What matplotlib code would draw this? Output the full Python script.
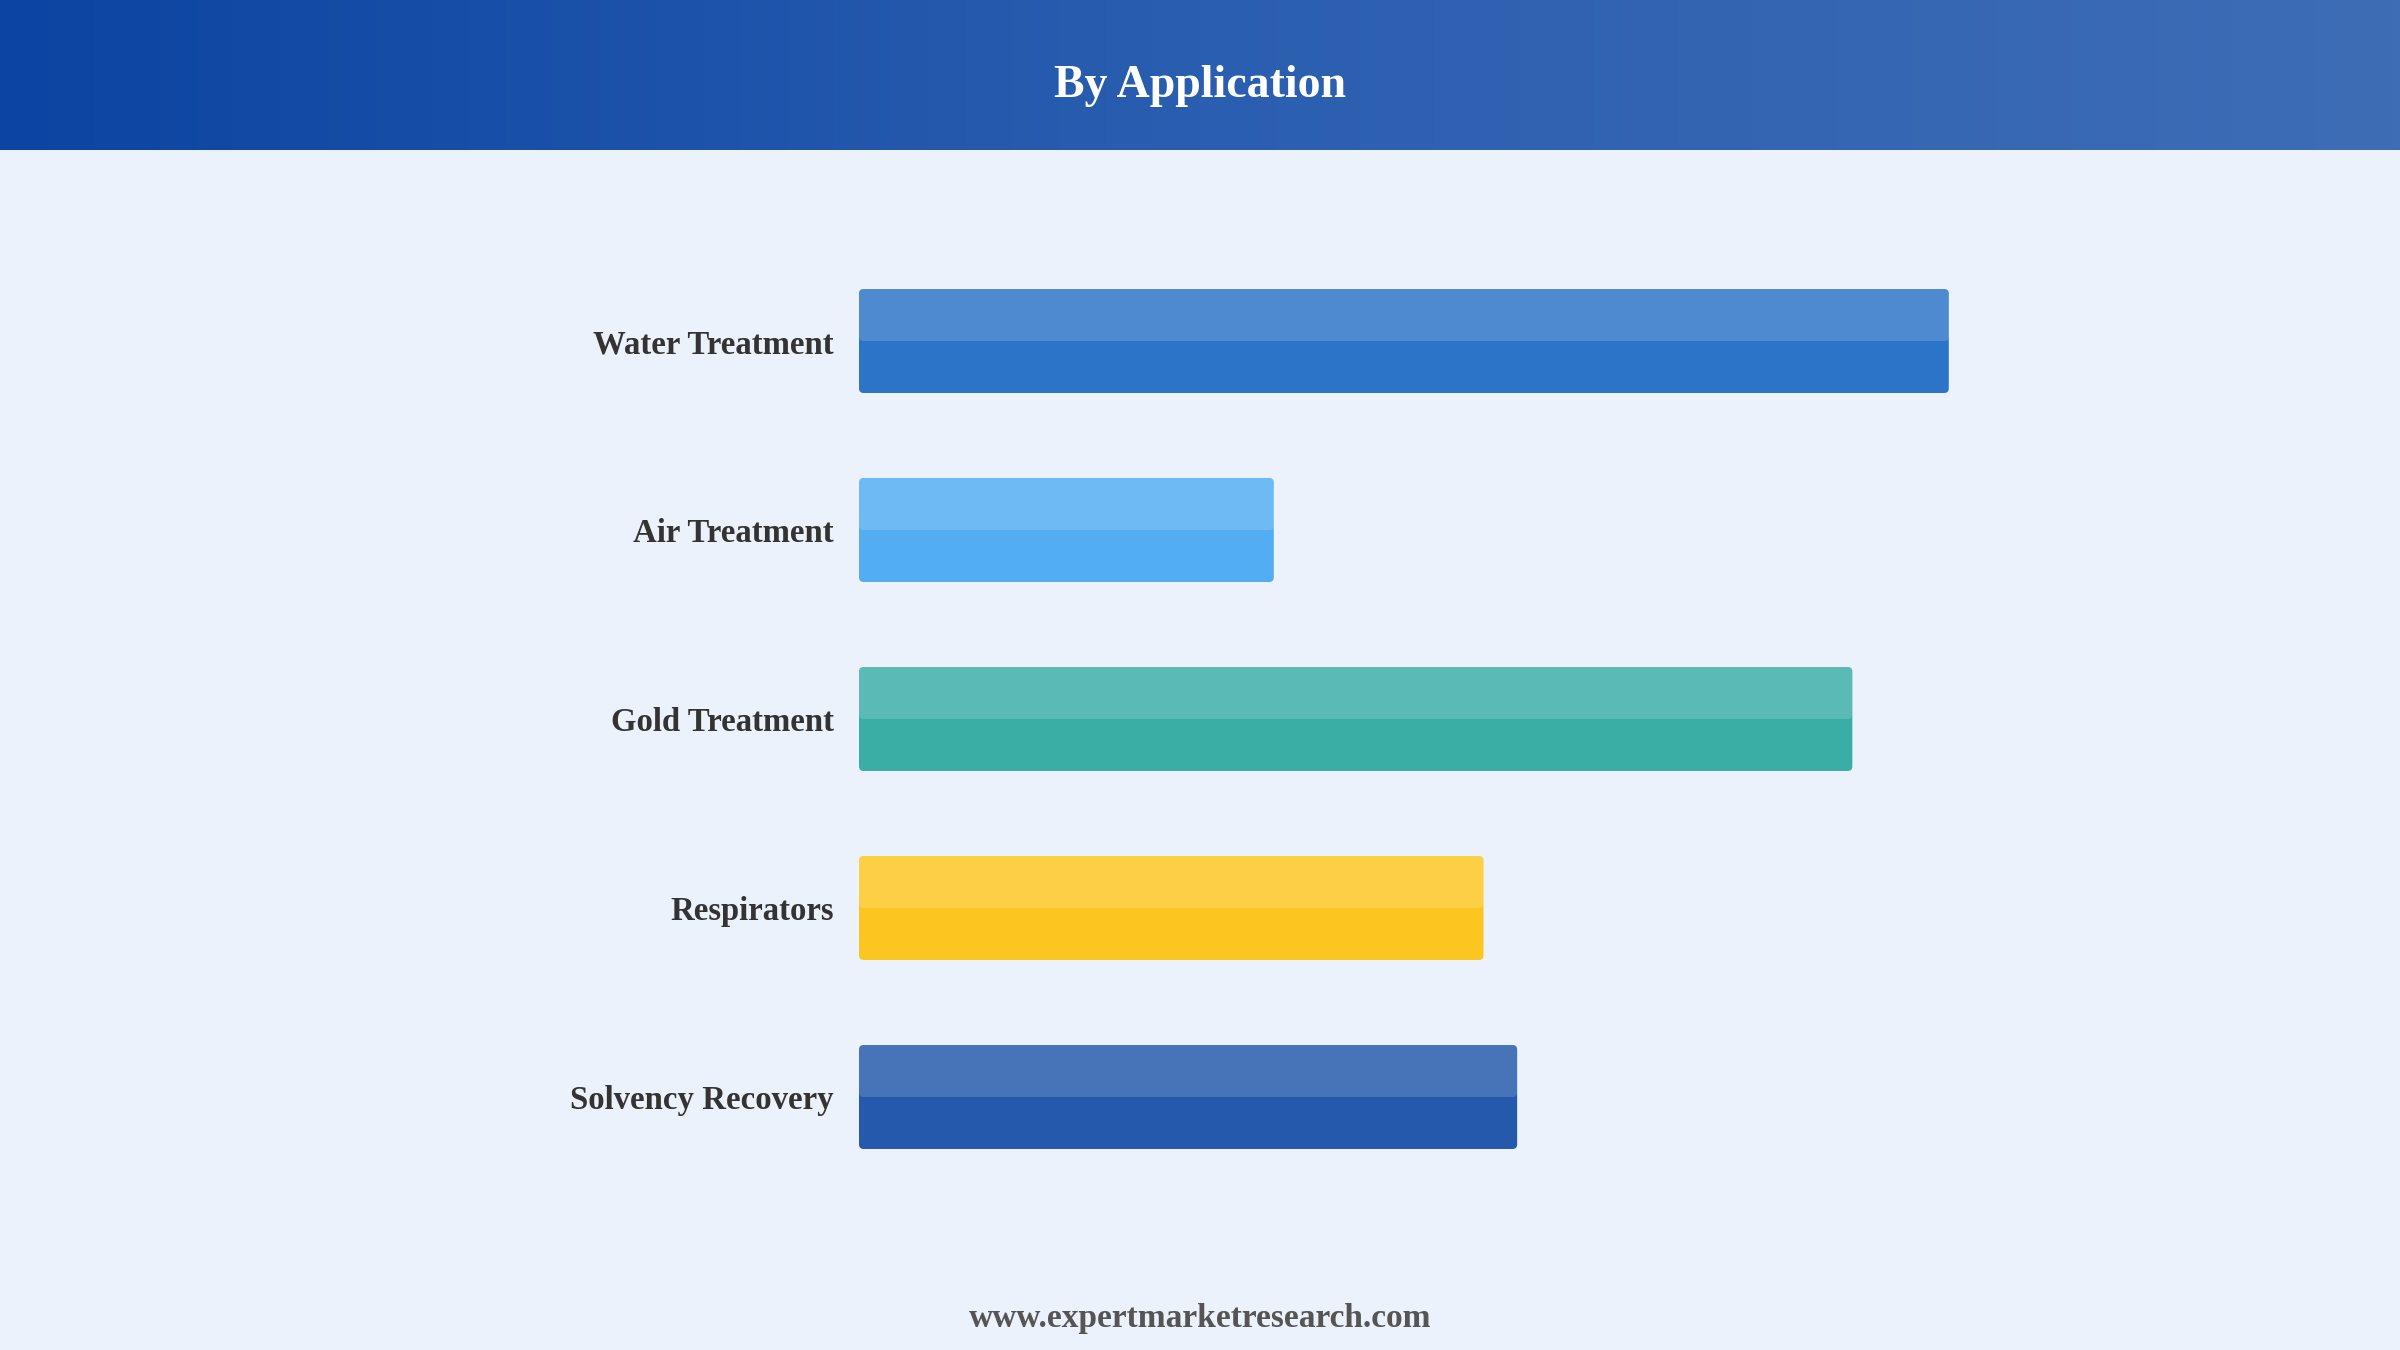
import numpy as np
import matplotlib
matplotlib.use("Agg")
import matplotlib.pyplot as plt
from matplotlib.patches import FancyBboxPatch
from matplotlib.colors import LinearSegmentedColormap

categories = ["Water Treatment", "Air Treatment", "Gold Treatment", "Respirators", "Solvency Recovery"]
values = [71.2, 27.1, 64.9, 40.8, 43.0]
colors = ["#2B74C7", "#52ADF3", "#3AAEA5", "#FCC621", "#2459AC"]

title = "By Application"
footer = "www.expertmarketresearch.com"

plt.rcParams["font.family"] = ["Liberation Serif", "DejaVu Serif"]

W, H = 2400, 1350
fig = plt.figure(figsize=(24, 13.5), dpi=100)
fig.patch.set_facecolor("#EBF2FC")

# header band with horizontal gradient
hdr = fig.add_axes([0, 1 - 150 / H, 1, 150 / H])
cmap = LinearSegmentedColormap.from_list("hdr", ["#0B44A2", "#2A5EB0", "#3E6DB6"])
hdr.imshow(np.linspace(0, 1, 256).reshape(1, -1), aspect="auto", cmap=cmap,
           extent=[0, 1, 0, 1])
hdr.set_axis_off()
fig.text(0.5, 1 - 86 / H, title, ha="center", va="center", color="white",
         fontsize=33, fontweight="bold")

# bar area
ax = fig.add_axes([859 / W, (H - 1191.5) / H, 1530.6 / W, 945 / H])
ax.set_facecolor("none")
y = np.arange(len(categories))
bar_h = 0.55
bars = ax.barh(y, values, height=bar_h, color="none")
ax.set_xlim(0, 100)
ax.set_ylim(len(categories) - 0.5, -0.5)

for b, c in zip(bars, colors):
    x0, y0 = b.get_x(), b.get_y()
    w, h = b.get_width(), b.get_height()
    ax.add_patch(FancyBboxPatch((x0, y0), w, h,
                                boxstyle="round,pad=0,rounding_size=0.3",
                                mutation_aspect=0.081, facecolor=c,
                                edgecolor="none"))
    # lighter upper half
    ax.add_patch(FancyBboxPatch((x0, y0), w, h / 2,
                                boxstyle="round,pad=0,rounding_size=0.3",
                                mutation_aspect=0.081, facecolor="white",
                                alpha=0.16, edgecolor="none"))

ax.set_yticks(y)
ax.set_yticklabels(categories, fontsize=23.6, fontweight="bold", color="#333333")
ax.tick_params(axis="y", length=0, pad=18)
ax.set_xticks([])
for s in ax.spines.values():
    s.set_visible(False)

fig.text(0.5, 1 - 1318 / H, footer, ha="center", va="center", color="#555555",
         fontsize=24, fontweight="bold")

fig.savefig("out.png", dpi=100, facecolor=fig.get_facecolor())
